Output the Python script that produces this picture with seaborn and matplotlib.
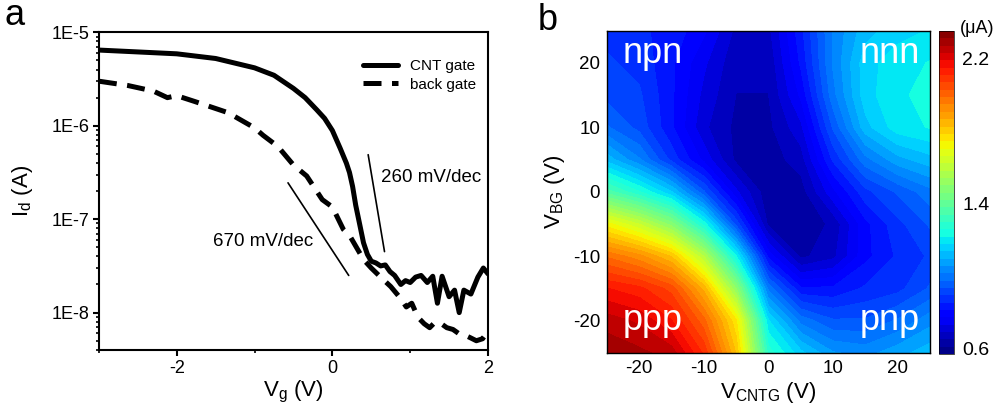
import numpy as np
import pandas as pd
import matplotlib
matplotlib.use("Agg")
import matplotlib.pyplot as plt
import seaborn as sns
from matplotlib.ticker import MultipleLocator, FixedLocator, FuncFormatter, LogLocator, NullFormatter
from matplotlib.lines import Line2D

# ---------------- Panel a data ----------------
vg_cnt = [-3.0, -2.5, -2.0, -1.5, -1.0, -0.75, -0.5, -0.35, -0.2, -0.1, 0.0, 0.1, 0.18,
          0.22, 0.26, 0.3, 0.35, 0.4, 0.45, 0.5, 0.56, 0.62, 0.68, 0.74, 0.8, 0.88, 0.94,
          1.0, 1.07, 1.14, 1.22, 1.29, 1.35, 1.41, 1.5, 1.57, 1.63, 1.69, 1.78, 1.87, 1.94, 2.0]
id_cnt = [6.46e-6, 6.17e-6, 5.89e-6, 5.25e-6, 4.17e-6, 3.47e-6, 2.51e-6, 2.0e-6, 1.48e-6,
          1.2e-6, 8.9e-7, 5.75e-7, 3.98e-7, 3.16e-7, 2.24e-7, 1.41e-7, 8.9e-8, 5.6e-8, 4.2e-8,
          3.55e-8, 3.4e-8, 3.16e-8, 3.24e-8, 2.75e-8, 2.5e-8, 2.0e-8, 2.2e-8, 2.1e-8, 2.4e-8,
          2.5e-8, 2.1e-8, 2.45e-8, 1.26e-8, 2.45e-8, 1.48e-8, 1.74e-8, 1.0e-8, 1.74e-8,
          1.58e-8, 2.4e-8, 3.0e-8, 2.6e-8]

vg_bg = [-3.0, -2.63, -2.3, -2.12, -2.0, -1.77, -1.34, -1.0, -0.89, -0.7, -0.5, -0.33, -0.13,
         0.0, 0.14, 0.23, 0.4, 0.5, 0.62, 0.75, 0.88, 0.95, 1.02, 1.1, 1.18, 1.25, 1.32, 1.4,
         1.47, 1.55, 1.62, 1.7, 1.77, 1.85, 1.93, 2.0]
id_bg = [3.0e-6, 2.7e-6, 2.35e-6, 2.0e-6, 2.1e-6, 1.82e-6, 1.38e-6, 9.5e-7, 7.9e-7, 6.0e-7,
         3.8e-7, 2.9e-7, 1.62e-7, 1.35e-7, 7.8e-8, 6.5e-8, 3.7e-8, 3.0e-8, 2.4e-8, 1.9e-8,
         1.41e-8, 1.15e-8, 1.26e-8, 8.9e-9, 7.6e-9, 6.9e-9, 7.9e-9, 7.6e-9, 6.9e-9, 6.6e-9,
         6.0e-9, 5.75e-9, 5.4e-9, 5.0e-9, 5.25e-9, 6.3e-9]

series_names = ["CNT gate", "back gate"]

slope260_x = [0.46, 0.67]
slope260_y = [4.9e-7, 4.5e-8]
slope670_x = [-0.57, 0.21]
slope670_y = [2.45e-7, 2.5e-8]
slope_labels = ["260 mV/dec", "670 mV/dec"]

# ---------------- Panel b data (current in uA) ----------------
vcntg = [-25, -20, -15, -10, -5, 0, 5, 10, 15, 20, 25]
vbg = [25, 20, 15, 10, 5, 0, -5, -10, -15, -20, -25]
current_uA = [
    [0.88, 0.86, 0.84, 0.78, 0.68, 0.68, 0.84, 1.02, 1.12, 1.16, 1.18],
    [0.90, 0.88, 0.82, 0.74, 0.66, 0.66, 0.82, 1.02, 1.16, 1.20, 1.22],
    [0.92, 0.90, 0.82, 0.72, 0.65, 0.65, 0.78, 1.00, 1.16, 1.21, 1.23],
    [0.98, 0.92, 0.82, 0.70, 0.64, 0.64, 0.72, 0.94, 1.12, 1.20, 1.22],
    [1.12, 1.02, 0.88, 0.76, 0.64, 0.63, 0.67, 0.86, 1.00, 1.08, 1.12],
    [1.36, 1.26, 1.14, 0.94, 0.74, 0.62, 0.63, 0.76, 0.88, 0.94, 1.00],
    [1.72, 1.62, 1.48, 1.24, 0.92, 0.64, 0.62, 0.66, 0.80, 0.88, 0.94],
    [1.98, 1.92, 1.82, 1.58, 1.22, 0.80, 0.64, 0.68, 0.80, 0.86, 0.90],
    [2.15, 2.12, 2.05, 1.85, 1.50, 1.00, 0.82, 0.82, 0.86, 0.88, 0.94],
    [2.25, 2.22, 2.15, 2.00, 1.75, 1.18, 1.00, 0.94, 0.94, 0.98, 1.04],
    [2.30, 2.28, 2.25, 2.10, 1.82, 1.28, 1.15, 1.06, 1.04, 1.08, 1.12],
]
region_labels = ["npn", "nnn", "ppp", "pnp"]
cbar_ticks = [0.6, 1.4, 2.2]

# ---------------- Styling ----------------
sns.set_theme(style="ticks")
plt.rcParams["font.family"] = ["Liberation Sans", "DejaVu Sans"]
plt.rcParams["axes.unicode_minus"] = False
for k in ["text.color", "axes.labelcolor", "xtick.color", "ytick.color", "axes.edgecolor"]:
    plt.rcParams[k] = "black"

fig = plt.figure(figsize=(9.99, 4.2), dpi=100)

# ---------------- Panel a ----------------
ax = fig.add_axes([0.099, 0.1667, 0.3895, 0.7563])
df = pd.concat([
    pd.DataFrame({"Vg": vg_cnt, "Id": id_cnt, "series": series_names[0]}),
    pd.DataFrame({"Vg": vg_bg, "Id": id_bg, "series": series_names[1]}),
])
sns.lineplot(data=df, x="Vg", y="Id", style="series", ax=ax, color="black",
             linewidth=3.6, estimator=None, sort=False, legend=False,
             dashes={series_names[0]: "", series_names[1]: (3.6, 2.1)})
ax.set_yscale("log")
for ln in list(ax.lines[:2]):
    ln.set_solid_joinstyle("round")

ax.plot(slope260_x, slope260_y, color="black", lw=1.2)
ax.plot(slope670_x, slope670_y, color="black", lw=1.2)
ax.text(0.62, 2.8e-7, slope_labels[0], fontsize=13.5, va="center", ha="left")
ax.text(-1.54, 5.8e-8, slope_labels[1], fontsize=13.5, va="center", ha="left")

ax.set_xlim(-3, 2)
ax.set_ylim(10 ** -8.4, 1e-5)
ax.xaxis.set_major_locator(FixedLocator([-2, 0, 2]))
ax.xaxis.set_minor_locator(MultipleLocator(1))
ax.yaxis.set_major_locator(LogLocator(base=10, numticks=10))
ax.yaxis.set_minor_locator(LogLocator(base=10, subs=np.arange(2, 10), numticks=20))
ax.yaxis.set_minor_formatter(NullFormatter())
ax.yaxis.set_major_formatter(FuncFormatter(lambda v, p: "1E%d" % int(round(np.log10(v)))))
ax.tick_params(axis="both", which="major", direction="out", length=4, width=1.5,
               labelsize=13, top=False, right=False, pad=3)
ax.tick_params(axis="both", which="minor", direction="out", length=2.5, width=1.2,
               top=False, right=False)
for s in ax.spines.values():
    s.set_linewidth(1.5)
    s.set_visible(True)

ax.set_xlabel(r"V$_\mathregular{g}$ (V)", fontsize=16)
ax.set_ylabel(r"I$_\mathregular{d}$ (A)", fontsize=16)
ax.xaxis.set_label_coords(0.5, -0.09)
ax.yaxis.set_label_coords(-0.165, 0.5)

handles = [Line2D([], [], color="black", lw=3.6),
           Line2D([], [], color="black", lw=3.6, dashes=(3.6, 2.1))]
ax.legend(handles, series_names, loc="upper right", frameon=False, fontsize=11,
          handlelength=2.3, handletextpad=0.8, labelspacing=0.3,
          bbox_to_anchor=(0.985, 0.935), borderaxespad=0)

fig.text(0.005, 0.94, "a", fontsize=26, va="baseline", ha="left")

# ---------------- Panel b ----------------
axb = fig.add_axes([0.6076, 0.1595, 0.3233, 0.7675])
X, Y = np.meshgrid(vcntg, vbg)
Z = np.array(current_uA)
levels = np.linspace(0.57, 2.35, 45)
cf = axb.contourf(X, Y, Z, levels=levels, cmap="jet")
axb.set_xlim(-25, 25)
axb.set_ylim(-25, 25)
axb.xaxis.set_major_locator(FixedLocator([-20, -10, 0, 10, 20]))
axb.yaxis.set_major_locator(FixedLocator([-20, -10, 0, 10, 20]))
axb.tick_params(axis="both", direction="in", length=4, width=1, labelsize=13.5,
                top=True, right=True, pad=5)
for s in axb.spines.values():
    s.set_linewidth(1)
axb.set_xlabel(r"V$_\mathregular{CNTG}$ (V)", fontsize=16)
axb.set_ylabel(r"V$_\mathregular{BG}$ (V)", fontsize=16)
axb.xaxis.set_label_coords(0.5, -0.085)
axb.yaxis.set_label_coords(-0.125, 0.5)

axb.text(-22.6, 21.4, region_labels[0], color="white", fontsize=26, ha="left", va="center")
axb.text(23.5, 21.4, region_labels[1], color="white", fontsize=26, ha="right", va="center")
axb.text(-22.6, -20, region_labels[2], color="white", fontsize=26, ha="left", va="center")
axb.text(23.5, -20, region_labels[3], color="white", fontsize=26, ha="right", va="center")

cax = fig.add_axes([0.94, 0.157, 0.015, 0.769])
cb = fig.colorbar(cf, cax=cax)
cb.set_ticks(cbar_ticks)
cb.ax.set_yticklabels(["%.1f" % t for t in cbar_ticks])
cb.ax.tick_params(length=0, labelsize=14, pad=6)
cb.outline.set_linewidth(0.5)
fig.text(0.978, 0.933, "(\u03bcA)", fontsize=13, ha="center", va="center")

fig.text(0.538, 0.928, "b", fontsize=26, va="baseline", ha="left")

fig.savefig("out.png", dpi=100)
